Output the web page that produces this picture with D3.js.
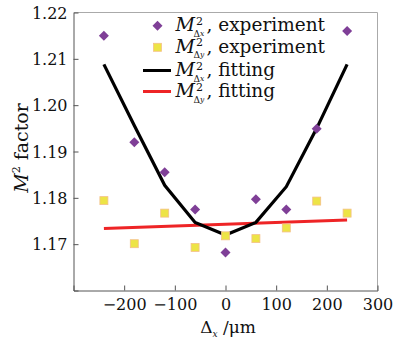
<!DOCTYPE html>
<html>
<head>
<meta charset="utf-8">
<script src="https://cdn.jsdelivr.net/npm/d3@7"></script>
<style>
  body { margin: 0; background: #fff; }
  text { font-family: "DejaVu Serif", serif; fill: #111; }
</style>
</head>
<body>
<svg id="chart" width="406" height="339"></svg>
<script>
// offsets in micrometres
const offsets = [-240, -180, -120, -60, 0, 60, 120, 180, 240];
const m2xExperiment = [1.215, 1.192, 1.1855, 1.1775, 1.1682, 1.1797, 1.1775, 1.1949, 1.216];
const m2yExperiment = [1.1794, 1.1701, 1.1767, 1.1693, 1.1718, 1.1712, 1.1735, 1.1793, 1.1767];
const m2xFitting = [1.2088, 1.1956, 1.1827, 1.1747, 1.172, 1.1747, 1.1824, 1.195, 1.2088];
const fitEnds = [-240, 240];
const m2yFitting = [1.1734, 1.1752];
const xTicks = [-200, -100, 0, 100, 200, 300];
const yTicks = [1.17, 1.18, 1.19, 1.20, 1.21, 1.22];

const PURPLE = "#7f3f97";
const YELLOW = "#ede446";
const RED = "#ee2426";

const svg = d3.select("#chart");
const plotL = 73.5, plotR = 377.5, plotT = 12.5, plotB = 290.5;

const x = d3.scaleLinear().domain([-300, 300]).range([plotL, plotR]);
const y = d3.scaleLinear().domain([1.16, 1.22]).range([plotB, plotT]);

// frame
svg.append("line").attr("x1", plotL).attr("x2", plotR).attr("y1", plotT).attr("y2", plotT)
  .attr("stroke", "#aaa");
svg.append("line").attr("x1", plotR).attr("x2", plotR).attr("y1", plotT).attr("y2", plotB)
  .attr("stroke", "#aaa");

const xAxis = svg.append("g").attr("transform", `translate(0,${plotB})`)
  .call(d3.axisBottom(x).tickValues(xTicks).tickSize(-5).tickPadding(8)
    .tickFormat(d => d < 0 ? "\u2212" + Math.abs(d) : d));
const yAxis = svg.append("g").attr("transform", `translate(${plotL},0)`)
  .call(d3.axisLeft(y).tickValues(yTicks).tickSize(-5).tickPadding(6).tickFormat(d3.format(".2f")));

[xAxis, yAxis].forEach(g => {
  g.select(".domain").attr("stroke", "#555");
  g.selectAll(".tick line").attr("stroke", "#555");
  g.selectAll(".tick text").attr("font-family", "DejaVu Serif").attr("font-size", 16).attr("fill", "#111");
});
xAxis.selectAll(".tick").filter(d => d === 300).select("line").remove();
yAxis.selectAll(".tick").filter(d => d === 1.22).select("line").remove();
yAxis.selectAll(".tick text").attr("dy", "0.36em");

// fitting lines
const line = d3.line().x(d => x(d[0])).y(d => y(d[1]));
svg.append("path").datum(d3.zip(fitEnds, m2yFitting)).attr("d", line)
  .attr("fill", "none").attr("stroke", RED).attr("stroke-width", 3);
svg.append("path").datum(d3.zip(offsets, m2xFitting)).attr("d", line)
  .attr("fill", "none").attr("stroke", "#000").attr("stroke-width", 3.2)
  .attr("stroke-linejoin", "miter");

// experiment points
const diamond = "M0,-5L5,0L0,5L-5,0Z";
svg.append("g").selectAll("path").data(d3.zip(offsets, m2xExperiment)).join("path")
  .attr("d", diamond).attr("fill", PURPLE)
  .attr("transform", d => `translate(${x(d[0])},${y(d[1])})`);
svg.append("g").selectAll("rect").data(d3.zip(offsets, m2yExperiment)).join("rect")
  .attr("x", d => x(d[0]) - 4).attr("y", d => y(d[1]) - 4)
  .attr("width", 8).attr("height", 8)
  .attr("fill", YELLOW).attr("stroke", "#f4c089").attr("stroke-width", 0.8);

// M^2_{Δx} style label
function m2Label(g, tx, ry, sub, rest) {
  const t = g.append("text").attr("x", tx).attr("y", ry + 5.5).attr("font-size", 19)
    .attr("font-style", "italic").text("M");
  const mw = t.node().getComputedTextLength();
  g.append("text").attr("x", tx + mw + 1).attr("y", ry - 1).attr("font-size", 11).text("2");
  const s = g.append("text").attr("x", tx + mw - 1.5).attr("y", ry + 11).attr("font-size", 9);
  s.append("tspan").text("\u0394");
  s.append("tspan").attr("font-size", 7.5).attr("font-style", "italic").attr("dy", -1).text(sub);
  g.append("text").attr("x", tx + mw + 11.5).attr("y", ry + 5.5).attr("font-size", 18.5).text(rest);
}

const legendNames = [", experiment", ", experiment", ", fitting", ", fitting"];
const legendSubs = ["x", "y", "x", "y"];
const rowY = [25.7, 47.3, 70.5, 91.5];
const lg = svg.append("g");
rowY.forEach((ry, i) => {
  const cx = 157.5;
  if (i === 0) lg.append("path").attr("d", diamond).attr("fill", PURPLE).attr("transform", `translate(${cx},${ry})`);
  if (i === 1) lg.append("rect").attr("x", cx - 4).attr("y", ry - 4).attr("width", 8).attr("height", 8)
    .attr("fill", YELLOW).attr("stroke", "#f4c089").attr("stroke-width", 0.8);
  if (i >= 2) lg.append("line").attr("x1", cx - 14.5).attr("x2", cx + 13.5).attr("y1", ry).attr("y2", ry)
    .attr("stroke", i === 2 ? "#000" : RED).attr("stroke-width", 3);
  m2Label(lg, 175.5, ry, legendSubs[i], legendNames[i]);
});

// axis titles
const yt = svg.append("text").attr("transform", "translate(28,148) rotate(-90)")
  .attr("text-anchor", "middle").attr("font-size", 19);
yt.append("tspan").attr("font-style", "italic").text("M");
yt.append("tspan").attr("font-size", 11).attr("dy", -8).text("2");
yt.append("tspan").attr("dy", 8).text(" factor");

const xt = svg.append("text").attr("x", 228).attr("y", 333).attr("text-anchor", "middle").attr("font-size", 17);
xt.append("tspan").text("\u0394");
xt.append("tspan").attr("font-size", 9).attr("font-style", "italic").attr("dy", 4).text("x");
xt.append("tspan").attr("dy", -4).text(" /\u03bcm");
</script>
</body>
</html>
